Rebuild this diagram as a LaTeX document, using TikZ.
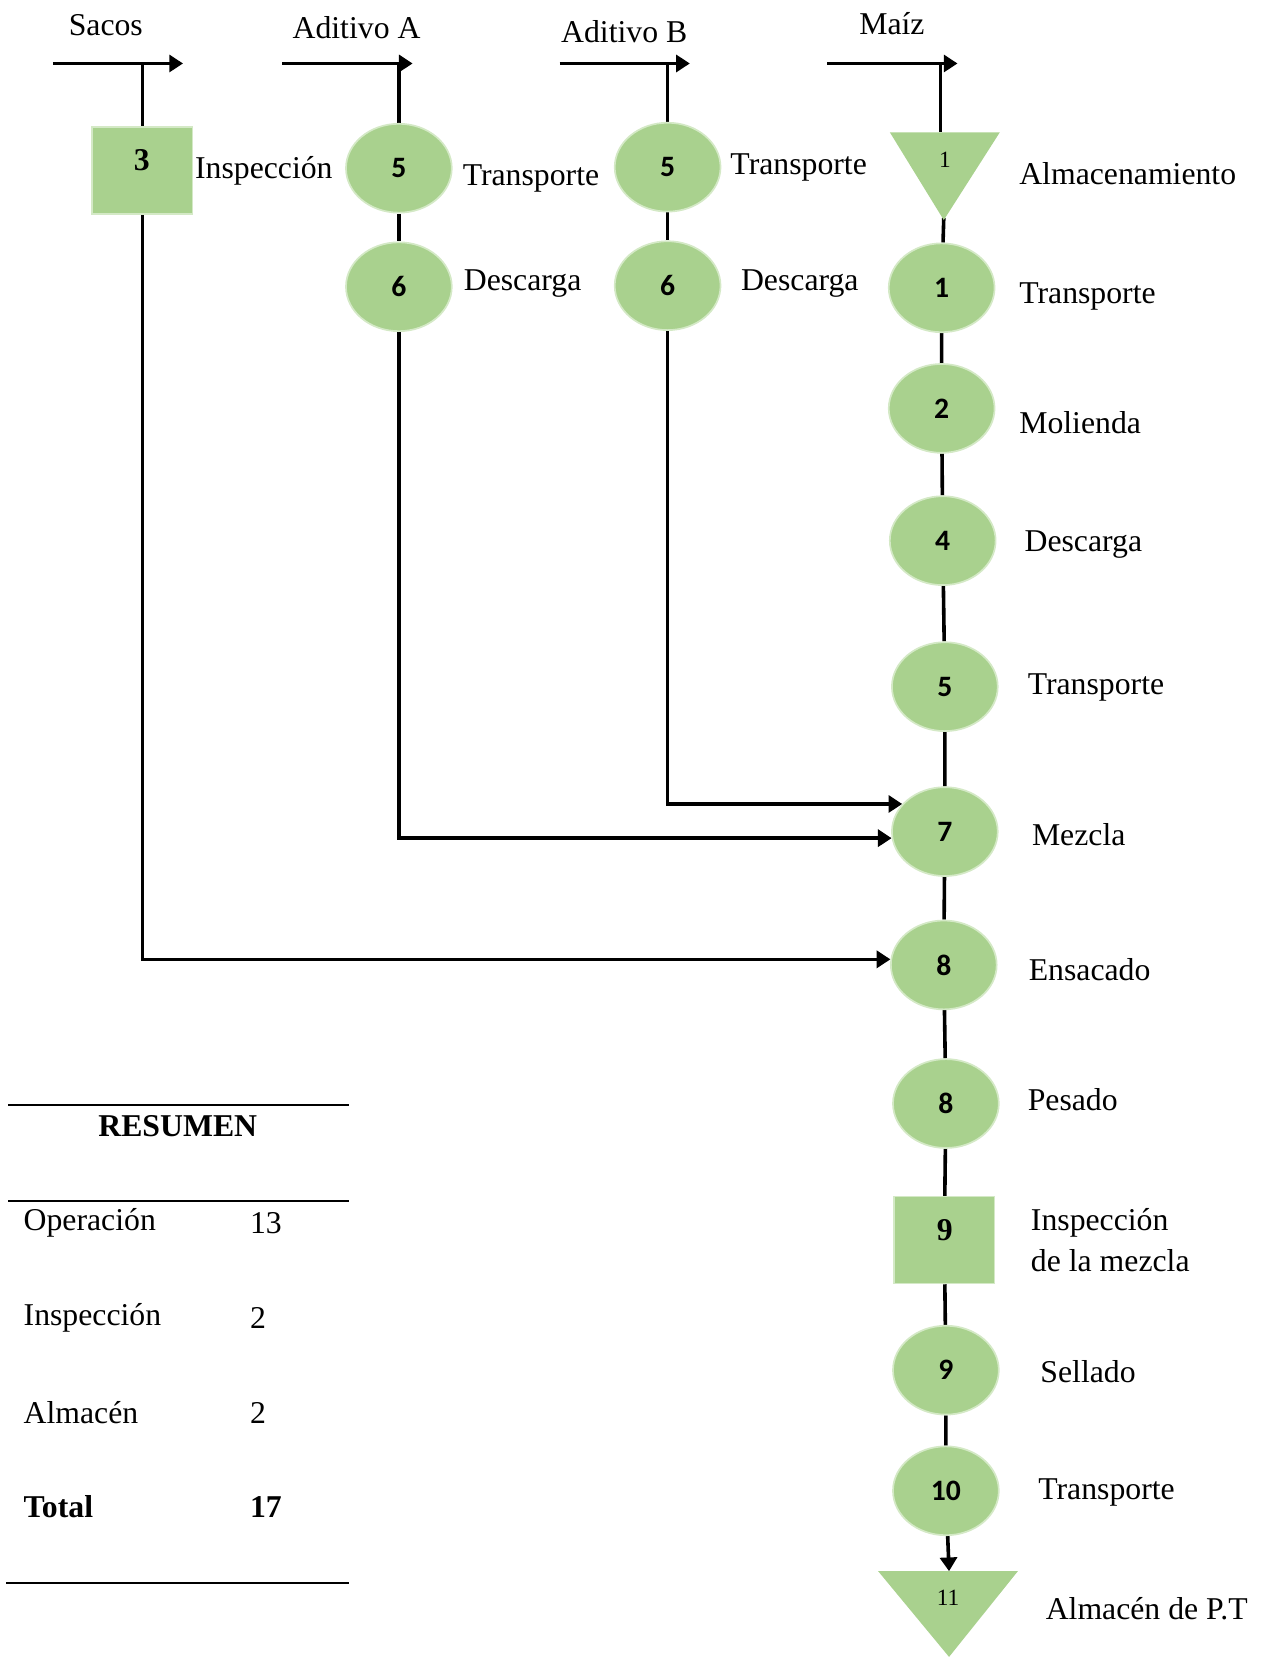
\documentclass[tikz,border=0pt]{standalone}
\usepackage{fontspec}
\setmainfont{Liberation Serif}
\newfontfamily\calibri{Carlito}
\usepackage{xcolor}
\definecolor{opGreen}{HTML}{A9D18E}
\definecolor{opEdge}{HTML}{D4E9C6}
\usepackage{tikz}
\usetikzlibrary{positioning,arrows.meta,shapes.geometric,backgrounds}

\begin{document}
\begin{tikzpicture}[x=0.5pt,y=-0.5pt,
      every node/.style={font=\fontsize{15}{19}\selectfont,inner sep=0pt},
      oper/.style={ellipse,fill=opGreen,draw=opEdge,line width=0.8pt,
                   minimum width=50pt,minimum height=42pt,
                   font=\calibri\bfseries\fontsize{14}{16}\selectfont},
      insp/.style={rectangle,fill=opGreen,draw=opEdge,line width=0.8pt,
                   minimum width=47.5pt,minimum height=41pt},
      stock/.style={fill=opGreen},
      sqnum/.style={font=\bfseries\fontsize{15}{17}\selectfont},
      trinum/.style={font=\fontsize{11}{12}\selectfont},
      lbl/.style={anchor=west,align=left},
      flow/.style={line width=1.7pt,black},
      arr/.style={flow,-{Triangle[length=6.5pt,width=8pt]}},
      rule/.style={line width=1pt,black},
    ]
    \useasboundingbox (0,0) rectangle (1200,1568);

    % Entradas
    \node (sacos) at (100,24) {Sacos};
    \node (aditA) at (337,26) {Aditivo A};
    \node (aditB) at (590,30) {Aditivo B};
    \node (maiz)  at (843,22) {Maíz};
    \coordinate (sacosL) at (50,60);  \coordinate (sacosR) at (173,60);
    \coordinate (aditAL) at (267,60); \coordinate (aditAR) at (390,60);
    \coordinate (aditBL) at (529,60); \coordinate (aditBR) at (652,60);
    \coordinate (maizL)  at (782,60); \coordinate (maizR)  at (905,60);

    % Sacos
    \node[insp] (insp3) at (134.5,161) {};
    \node[sqnum] (n3) at (134,151) {3};
    \node[lbl] (tInsp3) at (184,161) {Inspección};

    % Aditivo A
    \node[oper] (tA5) at (377,159) {5};
    \node[oper] (dA6) at (377,271) {6};
    \node[lbl] (tTA5) at (437,169) {Transporte};
    \node[lbl] (tDA6) at (438,268) {Descarga};

    % Aditivo B
    \node[oper] (tB5) at (631,158) {5};
    \node[oper] (dB6) at (631,270) {6};
    \node[lbl] (tTB5) at (690,158) {Transporte};
    \node[lbl] (tDB6) at (700,268) {Descarga};

    % Maiz: linea principal
    \fill[stock] (841,125) -- (945,125) -- (892,208) -- cycle;
    \coordinate (alm1top) at (889,125);
    \coordinate (alm1tip) at (892,206);
    \node[trinum] (n1) at (893,151) {1};
    \node[lbl] (tAlm1) at (963,164) {Almacenamiento};

    \node[oper] (m1)  at (890,272)  {1};
    \node[oper] (m2)  at (890,386)  {2};
    \node[oper] (m4)  at (891,511)  {4};
    \node[oper] (m5)  at (893,649)  {5};
    \node[oper] (m7)  at (893,786)  {7};
    \node[oper] (m8)  at (892,912)  {8};
    \node[oper] (m8p) at (894,1043) {8};
    \node[insp] (i9)  at (892.5,1172) {};
    \node[sqnum] (n9) at (893,1163) {9};
    \node[oper] (m9)  at (894,1295) {9};
    \node[oper] (m10) at (894,1409) {10};

    \node[lbl] (tM1)  at (963,280)  {Transporte};
    \node[lbl] (tM2)  at (963,399)  {Molienda};
    \node[lbl] (tM4)  at (968,515)  {Descarga};
    \node[lbl] (tM5)  at (971,650)  {Transporte};
    \node[lbl] (tM7)  at (975,789)  {Mezcla};
    \node[lbl] (tM8)  at (972,916)  {Ensacado};
    \node[lbl] (tM8p) at (971,1039) {Pesado};
    \node[lbl] (tI9)  at (974,1172) {Inspección\\de la mezcla};
    \node[lbl] (tM9)  at (983,1296) {Sellado};
    \node[lbl] (tM10) at (981,1411) {Transporte};

    \fill[stock] (830,1485) -- (962,1485) -- (897,1566) -- cycle;
    \coordinate (alm11top) at (897,1485);
    \node[trinum] (n11) at (896,1510) {11};
    \node[lbl] (tAlm11) at (988,1520) {Almacén de P.T};

    % Conexiones
    \begin{scope}[on background layer]
      \draw[arr] (sacosL) -- (sacosR);
      \draw[arr] (aditAL) -- (aditAR);
      \draw[arr] (aditBL) -- (aditBR);
      \draw[arr] (maizL) -- (maizR);

      \draw[flow] (insp3 |- sacosL) -- (insp3);
      \draw[arr] (insp3) |- (m8.174);

      \draw[flow] (tA5 |- aditAL) -- (tA5) -- (dA6);
      \draw[arr] (dA6) |- (m7.187);

      \draw[flow] (tB5 |- aditBL) -- (tB5) -- (dB6);
      \draw[arr] (dB6) |- (m7.147);

      \draw[flow] (alm1top |- maizL) -- (alm1top);
      \draw[flow] (alm1tip) -- (m1) -- (m2) -- (m4) -- (m5) -- (m7)
                  -- (m8) -- (m8p) -- (i9) -- (m9) -- (m10);
      \draw[arr] (m10) -- (alm11top);
    \end{scope}

    % Resumen
    \draw[rule] (8,1044) -- (330,1044);
    \draw[rule] (8,1135) -- (330,1135);
    \draw[rule] (6,1496) -- (330,1496);
    \node[font=\bfseries\fontsize{15}{19}\selectfont] (resumen) at (168,1064) {RESUMEN};
    \node[lbl] (rOp)   at (22,1156) {Operación};
    \node[lbl] (rOpN)  at (236,1156) {13};
    \node[lbl] (rIn)   at (22,1246) {Inspección};
    \node[lbl] (rInN)  at (236,1246) {2};
    \node[lbl] (rAl)   at (22,1335) {Almacén};
    \node[lbl] (rAlN)  at (236,1335) {2};
    \node[lbl,font=\bfseries\fontsize{15}{19}\selectfont] (rTot)  at (22,1424) {Total};
    \node[lbl,font=\bfseries\fontsize{15}{19}\selectfont] (rTotN) at (236,1424) {17};

  \end{tikzpicture}
\end{document}
